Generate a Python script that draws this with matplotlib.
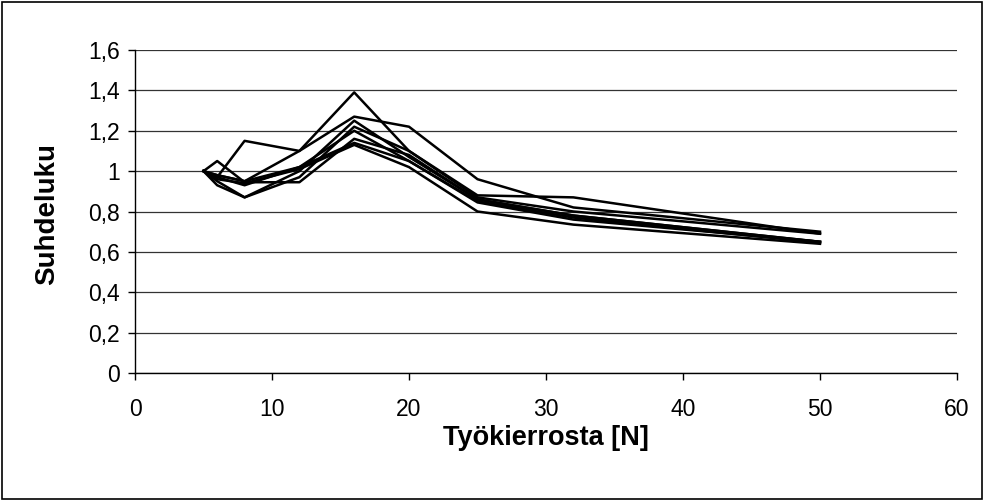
import matplotlib
matplotlib.use("Agg")
import matplotlib.pyplot as plt
from matplotlib.ticker import FuncFormatter, MultipleLocator

plt.rcParams['font.family'] = ['Liberation Sans', 'DejaVu Sans']

x_vals = [5, 6, 8, 12, 16, 20, 25, 32, 50]
series_a = [1.00, 0.97, 1.15, 1.10, 1.39, 1.10, 0.87, 0.80, 0.69]
series_b = [1.00, 0.98, 0.95, 1.10, 1.27, 1.22, 0.96, 0.82, 0.70]
series_c = [1.00, 1.05, 0.945, 0.945, 1.16, 1.08, 0.86, 0.78, 0.65]
series_d = [1.00, 0.93, 0.87, 0.97, 1.22, 1.10, 0.88, 0.87, 0.69]
series_e = [1.00, 0.95, 0.87, 1.00, 1.25, 1.07, 0.86, 0.78, 0.65]
series_f = [1.00, 0.97, 0.93, 1.02, 1.20, 1.05, 0.85, 0.77, 0.645]
series_g = [1.00, 0.96, 0.94, 1.01, 1.13, 1.02, 0.80, 0.735, 0.64]
series_h = [1.00, 0.98, 0.95, 1.02, 1.14, 1.05, 0.845, 0.76, 0.65]
all_series = [series_a, series_b, series_c, series_d, series_e, series_f, series_g, series_h]

x_label = "Työkierrosta [N]"
y_label = "Suhdeluku"

fig = plt.figure(figsize=(9.85, 5.01), dpi=100)
ax = fig.add_axes([135/985, 1-373/501, (957-135)/985, (373-50)/501])

for s in all_series:
    ax.plot(x_vals, s, color='black', linewidth=1.8, zorder=3)

ax.set_xlim(0, 60)
ax.set_ylim(0, 1.6)
ax.xaxis.set_major_locator(MultipleLocator(10))
ax.yaxis.set_major_locator(MultipleLocator(0.2))

def yfmt(v, pos):
    s = ('%.1f' % v)
    if s.endswith('.0'):
        s = s[:-2]
    return s.replace('.', ',')

ax.yaxis.set_major_formatter(FuncFormatter(yfmt))
ax.xaxis.set_major_formatter(FuncFormatter(lambda v, p: '%d' % v))

ax.grid(axis='y', color='#333333', linewidth=0.9, zorder=1)
ax.set_axisbelow(True)
for side in ['top', 'right']:
    ax.spines[side].set_visible(False)
for side in ['left', 'bottom']:
    ax.spines[side].set_linewidth(1.0)
    ax.spines[side].set_color('black')

ax.tick_params(axis='both', direction='out', length=5, width=1.0, labelsize=16.5, colors='black')
ax.tick_params(axis='y', pad=6)
ax.tick_params(axis='x', pad=13)

ax.set_xlabel(x_label, fontsize=19.5, fontweight='bold', va='center')
ax.set_ylabel(y_label, fontsize=20, fontweight='bold', va='center')
ax.xaxis.set_label_coords((546-135)/822, (373-438)/323)
ax.yaxis.set_label_coords((47-135)/822, (373-214)/323)

# outer border
fig.patches.append(plt.Rectangle((0.002, 0.003), 0.995, 0.993, transform=fig.transFigure,
                                 fill=False, edgecolor='black', linewidth=1.2))

fig.savefig('out.png', dpi=100)
